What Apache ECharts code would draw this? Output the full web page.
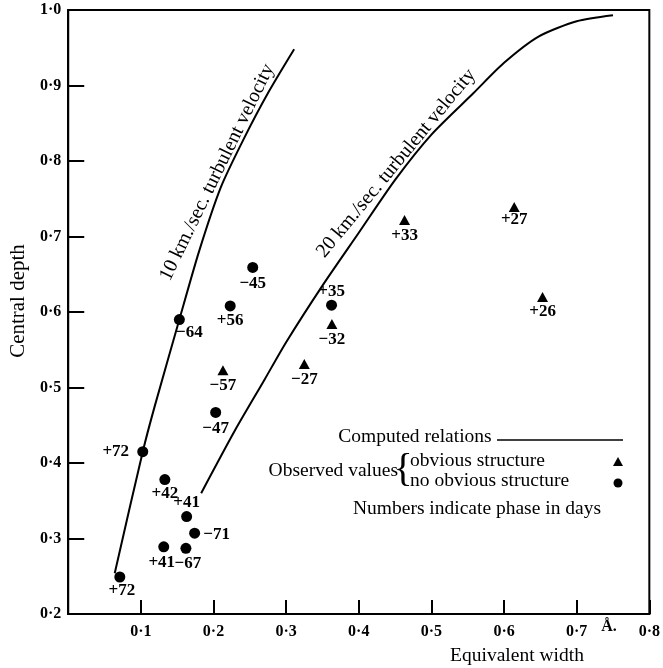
<!DOCTYPE html>
<html>
<head>
    <meta charset="utf-8">
    <title>Central depth vs equivalent width</title>
    <script src="https://cdn.jsdelivr.net/npm/echarts@6/dist/echarts.min.js"></script>
    <style>
        html, body { margin: 0; padding: 0; background: #fff; }
        #chart { width: 663px; height: 668px; }
    </style>
</head>
<body>
<div id="chart"></div>
<script type="text/javascript">
    // computed relations
    var curve10 = [[0.064, 0.254], [0.1026, 0.415], [0.119, 0.475], [0.153, 0.59], [0.18, 0.68], [0.21, 0.765], [0.241, 0.828], [0.275, 0.89], [0.311, 0.948]];
    var curve20 = [[0.183, 0.36], [0.23, 0.444], [0.27, 0.51], [0.30, 0.56], [0.35, 0.635], [0.40, 0.705], [0.45, 0.775], [0.50, 0.835], [0.558, 0.89], [0.60, 0.93], [0.648, 0.965], [0.70, 0.985], [0.75, 0.993]];

    // observed values, no obvious structure (dots)
    var dotX = [0.153, 0.223, 0.254, 0.203, 0.1026, 0.133, 0.163, 0.174, 0.1315, 0.162, 0.071, 0.3625];
    var dotY = [0.59, 0.608, 0.659, 0.467, 0.415, 0.378, 0.329, 0.307, 0.289, 0.287, 0.249, 0.609];
    var dotPhase = ['−64', '+56', '−45', '−47', '+72', '+42', '+41', '−71', '+41', '−67', '+72', '+35'];

    // observed values, obvious structure (triangles)
    var triX = [0.213, 0.363, 0.325, 0.463, 0.614, 0.653];
    var triY = [0.523, 0.584, 0.531, 0.722, 0.739, 0.620];
    var triPhase = ['−57', '−32', '−27', '+33', '+27', '+26'];

    var xTickLabels = ['', '0·1', '0·2', '0·3', '0·4', '0·5', '0·6', '0·7', '0·8'];
    var yTickLabels = ['0·2', '0·3', '0·4', '0·5', '0·6', '0·7', '0·8', '0·9', '1·0'];

    // where each phase label sits relative to its mark (px)
    var dotLabelOffset = [[10, 13], [0, 15], [0, 16], [0, 16], [-27, 0], [0, 14], [0, -14], [22, 1], [-2, 16], [2, 15], [2, 14], [0, -14]];
    var triLabelOffset = [[0, 15], [0, 16], [0, 16], [0, 16], [0, 13], [0, 15]];

    var serif = '"Liberation Serif", "DejaVu Serif", serif';

    function buildPoints(xs, ys, names, offsets) {
        var out = [];
        for (var i = 0; i < xs.length; i++) {
            out.push({
                value: [xs[i], ys[i]],
                name: names[i],
                label: { offset: offsets[i] }
            });
        }
        return out;
    }

    var myChart = echarts.init(document.getElementById('chart'));

    var pointLabel = {
        show: true,
        position: 'inside',
        formatter: '{b}',
        color: '#000',
        fontFamily: serif,
        fontSize: 17,
        fontWeight: 'bold'
    };

    myChart.setOption({
        animation: false,
        backgroundColor: '#fff',
        grid: {
            left: 62, right: 10, top: 10, bottom: 54,
            show: true, borderColor: '#000', borderWidth: 2
        },
        xAxis: {
            type: 'value', min: 0, max: 0.8, interval: 0.1,
            axisLine: { lineStyle: { color: '#000', width: 2 } },
            axisTick: { inside: true, length: 14, lineStyle: { color: '#000', width: 2 } },
            splitLine: { show: false },
            axisLabel: {
                margin: 10,
                color: '#000', fontFamily: serif, fontSize: 16, fontWeight: 'bold',
                formatter: function (v) { return xTickLabels[Math.round(v * 10)]; }
            }
        },
        yAxis: {
            type: 'value', min: 0.2, max: 1.0, interval: 0.1,
            name: 'Central depth', nameLocation: 'middle', nameGap: 38, nameRotate: 90,
            nameTextStyle: { color: '#000', fontFamily: serif, fontSize: 21, padding: [0, 0, 0, 22] },
            axisLine: { lineStyle: { color: '#000', width: 2 } },
            axisTick: { inside: true, length: 16, lineStyle: { color: '#000', width: 2 } },
            splitLine: { show: false },
            axisLabel: {
                margin: 7,
                color: '#000', fontFamily: serif, fontSize: 16, fontWeight: 'bold',
                formatter: function (v) { return yTickLabels[Math.round(v * 10) - 2]; }
            }
        },
        series: [
            {
                name: '10 km./sec.', type: 'line', smooth: 0.25, showSymbol: false,
                lineStyle: { color: '#000', width: 2 }, data: curve10
            },
            {
                name: '20 km./sec.', type: 'line', smooth: 0.25, showSymbol: false,
                lineStyle: { color: '#000', width: 2 }, data: curve20
            },
            {
                name: 'no obvious structure', type: 'scatter', symbol: 'circle', symbolSize: 11,
                itemStyle: { color: '#000', opacity: 1 }, label: pointLabel,
                data: buildPoints(dotX, dotY, dotPhase, dotLabelOffset)
            },
            {
                name: 'obvious structure', type: 'scatter', symbol: 'triangle', symbolSize: [11, 10],
                itemStyle: { color: '#000', opacity: 1 }, label: pointLabel,
                data: buildPoints(triX, triY, triPhase, triLabelOffset)
            }
        ]
    });

    // annotations: curve names, legend box, axis name
    var p1 = myChart.convertToPixel({ gridIndex: 0 }, [0.205, 0.785]);
    var p2 = myChart.convertToPixel({ gridIndex: 0 }, [0.4515, 0.797]);
    var txt = { fill: '#000', font: '19.5px ' + serif, align: 'center', verticalAlign: 'middle' };

    myChart.setOption({
        graphic: [
            { type: 'text', x: p1[0], y: p1[1], rotation: 64 * Math.PI / 180,
              style: Object.assign({}, txt, { text: '10 km./sec. turbulent velocity', font: '20px ' + serif }) },
            { type: 'text', x: p2[0], y: p2[1], rotation: 50.5 * Math.PI / 180,
              style: Object.assign({}, txt, { text: '20 km./sec. turbulent velocity', font: '20px ' + serif }) },
            { type: 'text', x: 415, y: 437, style: Object.assign({ text: 'Computed relations' }, txt) },
            { type: 'line', shape: { x1: 497, y1: 440, x2: 623, y2: 440 }, style: { stroke: '#000', lineWidth: 1.5 } },
            { type: 'text', x: 398, y: 471, style: Object.assign({}, txt, { text: 'Observed values', align: 'right' }) },
            { type: 'text', x: 403, y: 470, style: Object.assign({}, txt, { text: '{', font: '40px ' + serif }) },
            { type: 'text', x: 410, y: 461, style: Object.assign({}, txt, { text: 'obvious structure', align: 'left' }) },
            { type: 'text', x: 410, y: 481, style: Object.assign({}, txt, { text: 'no obvious structure', align: 'left' }) },
            { type: 'polygon', shape: { points: [[618, 457], [623, 466], [613, 466]] }, style: { fill: '#000' } },
            { type: 'circle', shape: { cx: 618, cy: 483, r: 4.5 }, style: { fill: '#000' } },
            { type: 'text', x: 477, y: 509, style: Object.assign({ text: 'Numbers indicate phase in days' }, txt) },
            { type: 'text', x: 517, y: 656, style: Object.assign({ text: 'Equivalent width' }, txt) },
            { type: 'text', x: 609, y: 627, style: Object.assign({}, txt, { text: 'Å.', font: 'bold 16px ' + serif }) }
        ]
    });
</script>
</body>
</html>
